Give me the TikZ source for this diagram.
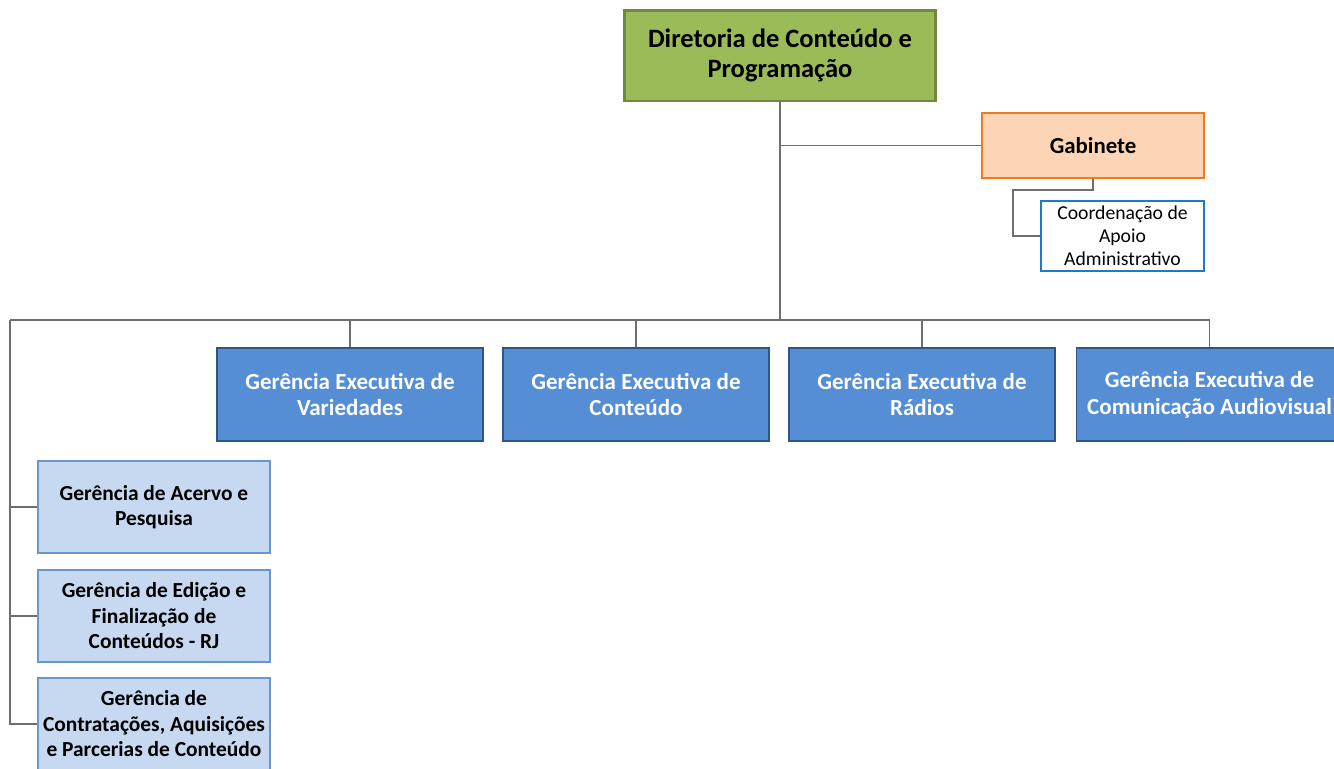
\documentclass[tikz,border=0pt]{standalone}
\usepackage{fontspec}
\setmainfont{Carlito}
\usetikzlibrary{positioning}
\definecolor{dirfill}{HTML}{9BBB59}
\definecolor{dirline}{HTML}{71893F}
\definecolor{gabfill}{HTML}{FBD5B5}
\definecolor{gabline}{HTML}{F07A1C}
\definecolor{coordline}{HTML}{1F78C8}
\definecolor{gexfill}{HTML}{558ED5}
\definecolor{gexline}{HTML}{2F5486}
\definecolor{gerfill}{HTML}{C6D9F1}
\definecolor{gerline}{HTML}{6B95CF}
\definecolor{linkgray}{HTML}{6E6E6E}
\tikzset{
  dirbox/.style={draw=dirline, fill=dirfill, line width=1.7pt, minimum width=6.24cm, minimum height=1.82cm, align=center, inner sep=0pt, font=\fontsize{15.1}{17}\selectfont\bfseries},
  gabbox/.style={draw=gabline, fill=gabfill, line width=0.9pt, minimum width=4.44cm, minimum height=1.3cm, align=center, inner sep=0pt, font=\fontsize{13}{14}\selectfont\bfseries},
  coordbox/.style={draw=coordline, fill=white, line width=0.7pt, minimum width=3.26cm, minimum height=1.4cm, align=center, inner sep=0pt, font=\fontsize{11.2}{13}\selectfont},
  gexbox/.style={draw=gexline, fill=gexfill, text=white, line width=0.7pt, minimum width=5.32cm, minimum height=1.86cm, align=center, inner sep=0pt, font=\fontsize{13.1}{15.3}\selectfont\bfseries},
  gerbox/.style={draw=gerline, fill=gerfill, line width=0.7pt, minimum width=4.64cm, minimum height=1.84cm, align=center, inner sep=0pt, font=\fontsize{12.2}{14.5}\selectfont\bfseries},
  link/.style={draw=linkgray, line width=0.6pt},
}
\begin{document}
\begin{tikzpicture}[x=0.02cm, y=-0.02cm]
  \useasboundingbox (0,0) rectangle (1334,768);
  \clip (0,0) rectangle (1334,768);
  %%%%% START %%%%%
  \node[dirbox] (dir) at (780,55.5) {Diretoria de Conteúdo e\\Programação};
  \node[gabbox] (gab) at (1093,145.5) {Gabinete};
  \node[coordbox] (coord) at (1122.5,236) {Coordenação de\\Apoio\\Administrativo};

  \node[gexbox] (gvar) at (350,394.5) {Gerência Executiva de\\Variedades};
  \node[gexbox] (gcon) at (636,394.5) {Gerência Executiva de\\Conteúdo};
  \node[gexbox] (grad) at (922,394.5) {Gerência Executiva de\\Rádios};
  \node[gexbox] (gcom) at (1209.5,394.5) {Gerência Executiva de\\Comunicação Audiovisual};

  \node[gerbox] (acervo) at (154,507) {Gerência de Acervo e\\Pesquisa};
  \node[gerbox] (edicao) at (154,616) {Gerência de Edição e\\Finalização de\\Conteúdos - RJ};
  \node[gerbox] (contrat) at (154,724) {Gerência de\\Contratações, Aquisições\\e Parcerias de Conteúdo};

  \coordinate (bus) at (780,320);
  \coordinate (busleft) at (10,320);
  \coordinate (gabturn) at (1013,190);

  \draw[link] (dir.south) -- (bus);
  \draw[link] (dir.south |- gab.west) -- (gab.west);
  \draw[link] (gab.south) |- (gabturn) |- (coord.west);

  \draw[link] (busleft) -| (gcom.north);
  \foreach \g in {gvar,gcon,grad}
    \draw[link] (\g.north) -- (\g.north |- bus);

  \foreach \g in {acervo,edicao,contrat}
    \draw[link] (busleft) |- (\g.west);
  %%%%% END %%%%%
\end{tikzpicture}
\end{document}
